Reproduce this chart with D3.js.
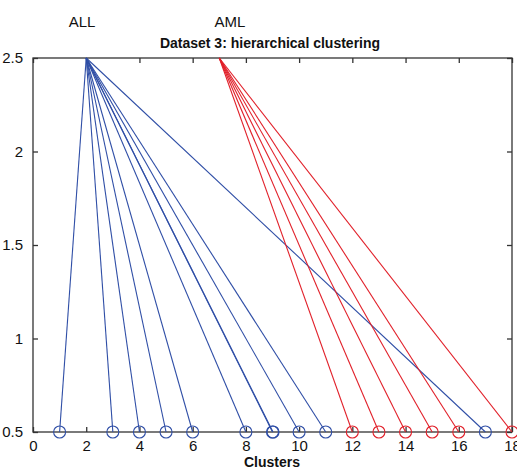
<!DOCTYPE html>
<html lang="en">
<head>
<meta charset="UTF-8">
<script src="https://d3js.org/d3.v7.min.js"></script>
<style>
  body { margin: 0; background: #fff; }
  svg text { font-family: "Liberation Sans", Arial, sans-serif; fill: #111; }
</style>
</head>
<body>
<svg width="517" height="472"></svg>
<script>
// cluster roots and leaves
var allRoot = [2, 2.5];
var amlRoot = [7, 2.5];
var allLeaves = [1, 3, 4, 5, 6, 8, 9, 9.02, 10, 11, 17];
var amlLeaves = [12, 13, 14, 15, 16, 18];
var leafLevel = 0.5;
var xTicks = [0, 2, 4, 6, 8, 10, 12, 14, 16, 18];
var yTicks = [0.5, 1, 1.5, 2, 2.5];

var svg = d3.select('svg');
var plotLeft = 33, plotRight = 512, plotTop = 58, plotBottom = 432;

var x = d3.scaleLinear().domain([0, 18]).range([plotLeft, plotRight]);
var y = d3.scaleLinear().domain([0.5, 2.5]).range([plotBottom, plotTop]);

var axisColor = '#333';

// box
svg.append('rect')
    .attr('x', plotLeft).attr('y', plotTop)
    .attr('width', plotRight - plotLeft).attr('height', plotBottom - plotTop)
    .attr('fill', 'none').attr('stroke', axisColor).attr('stroke-width', 1.3);

// ticks inward on all four sides
var xAx = svg.append('g').attr('transform', 'translate(0,' + plotBottom + ')')
    .call(d3.axisBottom(x).tickValues(xTicks).tickSize(-5).tickPadding(8).tickFormat(d3.format('d')));
var xTop = svg.append('g').attr('transform', 'translate(0,' + plotTop + ')')
    .call(d3.axisTop(x).tickValues(xTicks).tickSize(-5).tickFormat(''));
var yAx = svg.append('g').attr('transform', 'translate(' + plotLeft + ',0)')
    .call(d3.axisLeft(y).tickValues(yTicks).tickSize(-5).tickPadding(10).tickFormat(d3.format('')));
var yRight = svg.append('g').attr('transform', 'translate(' + plotRight + ',0)')
    .call(d3.axisRight(y).tickValues(yTicks).tickSize(-5).tickFormat(''));

[xAx, xTop, yAx, yRight].forEach(function (g) {
    g.select('.domain').remove();
    g.selectAll('line').attr('stroke', axisColor).attr('stroke-width', 1.3);
    g.selectAll('text').attr('font-size', 15).style('font-family', '"Liberation Sans", Arial, sans-serif').attr('fill', '#111');
});

function drawGroup(root, leaves, color) {
    var g = svg.append('g');
    g.selectAll('line').data(leaves).enter().append('line')
        .attr('x1', x(root[0])).attr('y1', y(root[1]))
        .attr('x2', d => x(d)).attr('y2', y(leafLevel))
        .attr('stroke', color).attr('stroke-width', 1.1);
    g.selectAll('circle').data(leaves).enter().append('circle')
        .attr('cx', d => x(d)).attr('cy', y(leafLevel)).attr('r', 6)
        .attr('fill', 'none').attr('stroke', color).attr('stroke-width', 1.1);
}
drawGroup(allRoot, allLeaves, '#2f4ea6');
drawGroup(amlRoot, amlLeaves, '#e1202a');

// labels
svg.append('text').attr('x', 270).attr('y', 48).attr('text-anchor', 'middle')
    .attr('font-size', 14).attr('font-weight', 'bold')
    .text('Dataset 3: hierarchical clustering');
svg.append('text').attr('x', 272).attr('y', 467).attr('text-anchor', 'middle')
    .attr('font-size', 14).attr('font-weight', 'bold')
    .text('Clusters');
svg.append('text').attr('x', 82).attr('y', 27).attr('text-anchor', 'middle')
    .attr('font-size', 15).text('ALL');
svg.append('text').attr('x', 230).attr('y', 27).attr('text-anchor', 'middle')
    .attr('font-size', 15).text('AML');
</script>
</body>
</html>
